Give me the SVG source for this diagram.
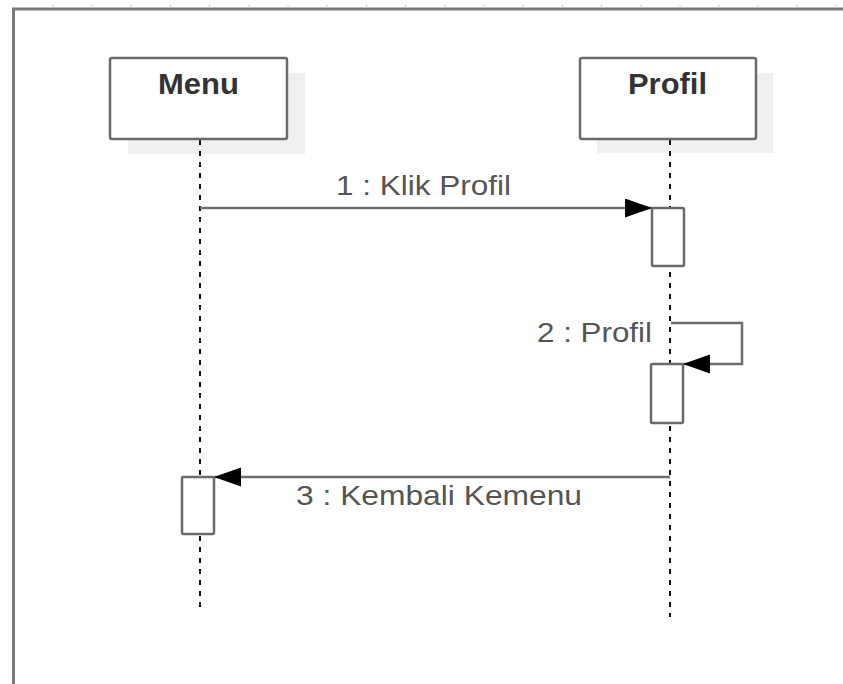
<svg xmlns="http://www.w3.org/2000/svg" width="843" height="684" viewBox="0 0 843 684">
  <style>
    .frame { fill: none; stroke: #7a7a7a; stroke-width: 3; }
    .tick { stroke: #c8c8c8; stroke-width: 1; }
    .shadow { fill: #f0f0f0; }
    .box { fill: #ffffff; stroke: #6a6a6a; stroke-width: 2.5; }
    .title { font-family: "Liberation Sans", Arial, sans-serif; font-size: 29px; font-weight: bold; fill: #333333; }
    .life { stroke: #111111; stroke-width: 2; stroke-dasharray: 5 6; fill: none; }
    .act { fill: #ffffff; stroke: #6a6a6a; stroke-width: 2.5; }
    .msg { fill: none; stroke: #6e6e6e; stroke-width: 2.5; }
    .label { font-family: "Liberation Sans", Arial, sans-serif; font-size: 28px; fill: #555555; }
  </style>
  <defs>
    <marker id="arrow" markerUnits="userSpaceOnUse" markerWidth="28" markerHeight="20" refX="27" refY="9.5" orient="auto">
      <path d="M0,0 L27,9.5 L0,19 Z" fill="#000000"/>
    </marker>
  </defs>

  <rect width="843" height="684" fill="#ffffff"/>

  <!-- frame -->
  <g id="frame">
    <path class="frame" d="M13.5,684 V9 H843"/>
    <g class="tick">
      <line x1="53" y1="5" x2="53" y2="8"/>
      <line x1="92" y1="5" x2="92" y2="8"/>
      <line x1="131" y1="5" x2="131" y2="8"/>
      <line x1="170.5" y1="5" x2="170.5" y2="8"/>
      <line x1="209.5" y1="5" x2="209.5" y2="8"/>
      <line x1="249" y1="5" x2="249" y2="8"/>
      <line x1="288" y1="5" x2="288" y2="8"/>
      <line x1="327" y1="5" x2="327" y2="8"/>
      <line x1="366.5" y1="5" x2="366.5" y2="8"/>
      <line x1="405.5" y1="5" x2="405.5" y2="8"/>
      <line x1="445" y1="5" x2="445" y2="8"/>
      <line x1="484" y1="5" x2="484" y2="8"/>
      <line x1="523" y1="5" x2="523" y2="8"/>
      <line x1="562.5" y1="5" x2="562.5" y2="8"/>
      <line x1="601.5" y1="5" x2="601.5" y2="8"/>
      <line x1="641" y1="5" x2="641" y2="8"/>
      <line x1="680" y1="5" x2="680" y2="8"/>
      <line x1="719" y1="5" x2="719" y2="8"/>
      <line x1="758" y1="5" x2="758" y2="8"/>
      <line x1="797" y1="5" x2="797" y2="8"/>
      <line x1="836" y1="5" x2="836" y2="8"/>
    </g>
  </g>

  <!-- lifeline: Menu -->
  <g id="menu">
    <rect class="shadow" x="128" y="73" width="177" height="81"/>
    <line class="life" x1="200" y1="140" x2="200" y2="607"/>
    <rect class="box" x="110" y="58" width="177" height="81" rx="2"/>
    <text class="title" x="198.5" y="94" text-anchor="middle" textLength="81" lengthAdjust="spacingAndGlyphs">Menu</text>
    <rect id="menu-act" class="act" x="182" y="477" width="32" height="57" rx="1.5"/>
  </g>

  <!-- lifeline: Profil -->
  <g id="profil">
    <rect class="shadow" x="597" y="73" width="176" height="80"/>
    <line class="life" x1="670" y1="140" x2="670" y2="617"/>
    <rect class="box" x="580" y="58" width="176" height="81" rx="2"/>
    <text class="title" x="667.5" y="94" text-anchor="middle" textLength="79" lengthAdjust="spacingAndGlyphs">Profil</text>
    <rect id="profil-act1" class="act" x="652" y="208" width="32" height="58" rx="1.5"/>
    <rect id="profil-act2" class="act" x="651" y="364" width="32" height="59" rx="1.5"/>
  </g>

  <!-- messages -->
  <g id="connectors">
    <line class="msg" x1="200" y1="208" x2="652" y2="208" marker-end="url(#arrow)"/>
    <text class="label" x="336" y="195" textLength="175" lengthAdjust="spacingAndGlyphs">1 : Klik Profil</text>

    <path class="msg" d="M671,323 H742 V364 H683" marker-end="url(#arrow)"/>
    <text class="label" x="537" y="342" textLength="115" lengthAdjust="spacingAndGlyphs">2 : Profil</text>

    <line class="msg" x1="670" y1="477" x2="214" y2="477" marker-end="url(#arrow)"/>
    <text class="label" x="296" y="505" textLength="286" lengthAdjust="spacingAndGlyphs">3 : Kembali Kemenu</text>
  </g>
</svg>
